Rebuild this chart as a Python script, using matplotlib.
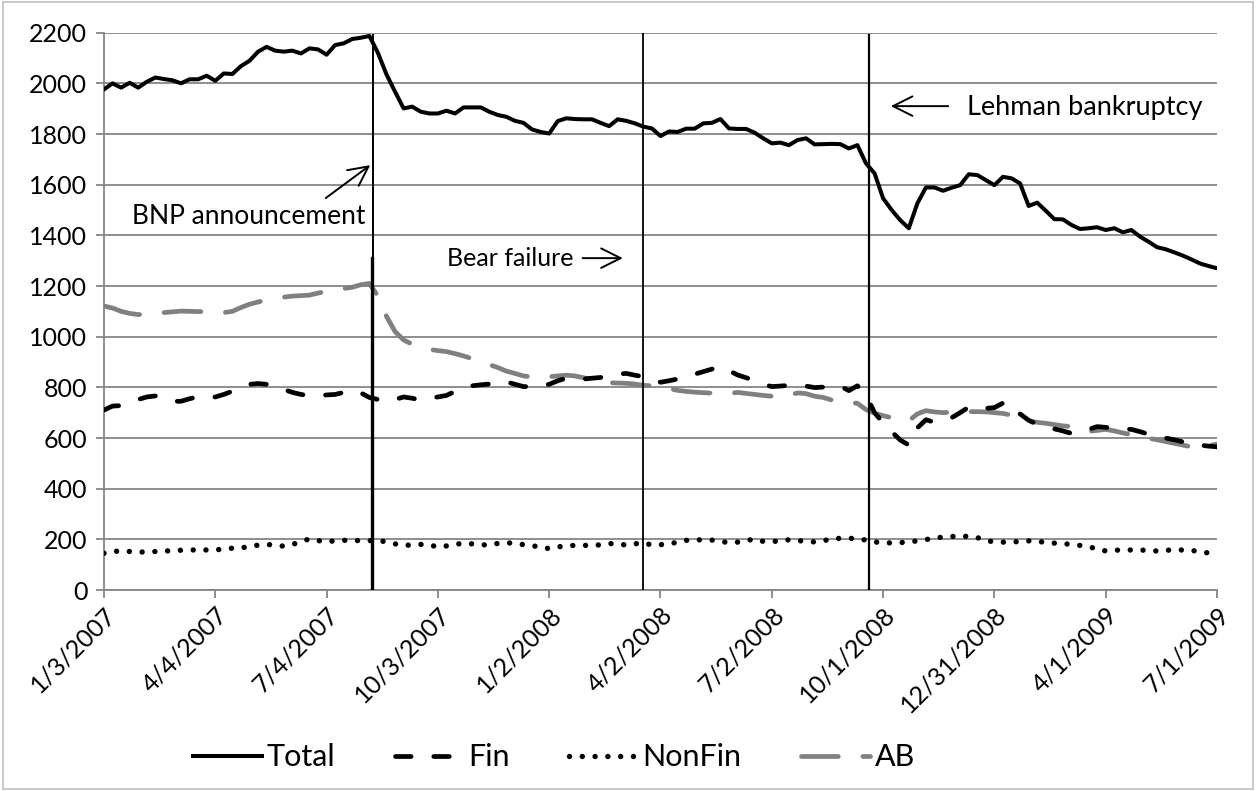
import numpy as np
import matplotlib.pyplot as plt
from matplotlib.patches import Rectangle

plt.rcParams['font.family'] = ['Lato', 'DejaVu Sans']

# weekly observations, 1/3/2007 .. 7/1/2009
tick_labels = ['1/3/2007', '4/4/2007', '7/4/2007', '10/3/2007', '1/2/2008', '4/2/2008',
               '7/2/2008', '10/1/2008', '12/31/2008', '4/1/2009', '7/1/2009']

total = [1976, 2000, 1983, 2002, 1983, 2006, 2023, 2017, 2012, 2000,
         2016, 2016, 2030, 2010, 2039, 2037, 2068, 2089, 2125, 2144,
         2129, 2125, 2129, 2118, 2138, 2134, 2113, 2151, 2158, 2175,
         2180, 2187, 2120, 2035, 1967, 1901, 1908, 1888, 1881, 1881,
         1892, 1881, 1905, 1905, 1905, 1888, 1875, 1868, 1852, 1844,
         1818, 1808, 1802, 1851, 1862, 1859, 1858, 1858, 1844, 1831,
         1858, 1852, 1842, 1829, 1822, 1792, 1810, 1808, 1821, 1821,
         1842, 1844, 1859, 1822, 1820, 1820, 1805, 1783, 1763, 1766,
         1756, 1776, 1783, 1759, 1760, 1761, 1760, 1743, 1756, 1684,
         1645, 1546, 1500, 1460, 1428, 1526, 1589, 1589, 1576, 1588,
         1598, 1641, 1638, 1618, 1598, 1631, 1625, 1605, 1516, 1529,
         1497, 1464, 1463, 1441, 1425, 1428, 1432, 1421, 1428, 1412,
         1421, 1395, 1375, 1353, 1345, 1333, 1320, 1305, 1289, 1279,
         1270]

fin = [710, 726, 728, 740, 752, 762, 766, 755, 745, 745,
       755, 763, 762, 762, 772, 785, 800, 812, 815, 812,
       806, 792, 780, 772, 767, 768, 770, 772, 780, 789,
       778, 760, 752, 745, 752, 762, 757, 750, 757, 762,
       768, 784, 800, 806, 810, 813, 818, 822, 812, 803,
       803, 805, 812, 826, 836, 834, 833, 836, 839, 845,
       852, 855, 848, 842, 836, 820, 826, 833, 843, 852,
       862, 872, 881, 866, 849, 838, 826, 812, 803, 805,
       808, 809, 805, 799, 801, 804, 805, 787, 806, 770,
       700, 660, 625, 592, 572, 640, 672, 662, 670, 680,
       700, 722, 717, 717, 720, 738, 735, 695, 670, 654,
       645, 636, 628, 618, 622, 634, 645, 642, 638, 636,
       634, 625, 615, 605, 600, 593, 585, 576, 572, 568,
       565]

nonfin = [145, 152, 154, 152, 150, 150, 152, 154, 155, 157,
          158, 158, 158, 158, 162, 165, 166, 172, 177, 180,
          177, 173, 180, 190, 202, 195, 191, 194, 196, 197,
          194, 195, 194, 191, 182, 177, 177, 180, 178, 170,
          174, 180, 185, 182, 179, 177, 184, 186, 185, 179,
          174, 171, 163, 170, 175, 176, 176, 177, 178, 183,
          183, 177, 182, 187, 177, 179, 182, 189, 196, 198,
          198, 197, 192, 187, 189, 195, 201, 192, 190, 196,
          198, 196, 191, 190, 194, 202, 204, 204, 203, 197,
          190, 186, 186, 187, 190, 194, 199, 205, 209, 211,
          213, 211, 207, 195, 190, 189, 189, 192, 194, 192,
          188, 185, 183, 180, 176, 170, 163, 154, 157, 158,
          158, 158, 156, 154, 157, 158, 158, 156, 152, 146,
          142]

ab = [1121, 1113, 1100, 1092, 1087, 1090, 1093, 1095, 1098, 1101,
      1100, 1099, 1099, 1097, 1095, 1100, 1115, 1128, 1137, 1145,
      1150, 1156, 1160, 1162, 1164, 1172, 1179, 1185, 1190, 1195,
      1205, 1210, 1160, 1080, 1020, 987, 970, 958, 950, 945,
      941, 933, 924, 913, 900, 890, 878, 864, 855, 845,
      841, 840, 842, 845, 848, 845, 838, 830, 824, 818,
      817, 816, 813, 808, 806, 802, 795, 788, 784, 781,
      779, 777, 775, 776, 780, 776, 772, 768, 765, 762,
      768, 778, 775, 765, 760, 750, 743, 740, 737, 712,
      698, 688, 680, 671, 668, 695, 708, 703, 700, 702,
      704, 704, 704, 703, 700, 697, 690, 675, 667, 662,
      658, 653, 648, 645, 630, 626, 630, 634, 628, 620,
      613, 606, 599, 593, 586, 579, 572, 565, 562, 570,
      576]

weeks = np.arange(len(total))

fig = plt.figure(figsize=(12.57, 7.91), dpi=100)
ax = fig.add_axes([0.0827, 0.2541, 0.8855, 0.7046])

ax.plot(weeks, total, color='black', lw=2.9, label='Total', zorder=5)
ax.plot(weeks, fin, color='black', lw=3.4, dashes=(3.3, 4.8), dash_capstyle='round',
        label='Fin', zorder=4)
ax.plot(weeks, nonfin, color='black', lw=3.9, dashes=(0.01, 2.35), dash_capstyle='round',
        label='NonFin', zorder=4)
ax.plot(weeks, ab, color='#808080', lw=3.4, dashes=(7.8, 5.2), dash_capstyle='round',
        label='AB', zorder=3)

# event lines
ax.plot([31.4, 31.4], [0, 2190], color='black', lw=1.4, zorder=6)
ax.plot([31.3, 31.3], [0, 1310], color='black', lw=2.4, zorder=6)
ax.plot([62.9, 62.9], [0, 2200], color='black', lw=1.3, zorder=6)
ax.plot([89.4, 89.4], [0, 2190], color='black', lw=1.6, zorder=6)

arrow = dict(arrowstyle='->,head_length=0.7,head_width=0.35', color='black', lw=1.4,
             mutation_scale=20, shrinkA=0, shrinkB=0)
ax.annotate('', xy=(31.1, 1677), xytext=(25.9, 1547), arrowprops=arrow)
ax.text(30.5, 1476, 'BNP announcement', fontsize=19, ha='right', va='center')
ax.text(40.1, 1310, 'Bear failure', fontsize=18, ha='left', va='center')
ax.annotate('', xy=(60.6, 1310), xytext=(55.9, 1310), arrowprops=arrow)
ax.annotate('', xy=(91.9, 1910), xytext=(98.6, 1910), arrowprops=arrow)
ax.text(100.8, 1905, 'Lehman bankruptcy', fontsize=19.5, ha='left', va='center')

ax.set_xlim(0, 130)
ax.set_ylim(0, 2200)
ax.set_yticks(range(0, 2201, 200))
ax.set_xticks(range(0, 131, 13))
ax.set_xticklabels(tick_labels, rotation=45, ha='right', rotation_mode='anchor')
ax.tick_params(axis='both', labelsize=18, color='#868686', length=6, width=1.3)
ax.tick_params(axis='y', pad=6)
ax.tick_params(axis='x', pad=3)
ax.grid(axis='y', color='#868686', lw=1.3)
ax.set_axisbelow(True)
for side in ['top', 'right']:
    ax.spines[side].set_visible(False)
for side in ['left', 'bottom']:
    ax.spines[side].set_color('#868686')
    ax.spines[side].set_linewidth(1.3)

fig.legend(loc='lower left', bbox_to_anchor=(0.132, -0.01), ncol=4, frameon=False,
           fontsize=22, handlelength=2.25, columnspacing=1.95, handletextpad=0.15)

fig.add_artist(Rectangle((0.002, 0.003), 0.995, 0.994, transform=fig.transFigure,
                         fill=False, edgecolor='#bfbfbf', lw=1.2))

fig.savefig('out.png', dpi=100)
